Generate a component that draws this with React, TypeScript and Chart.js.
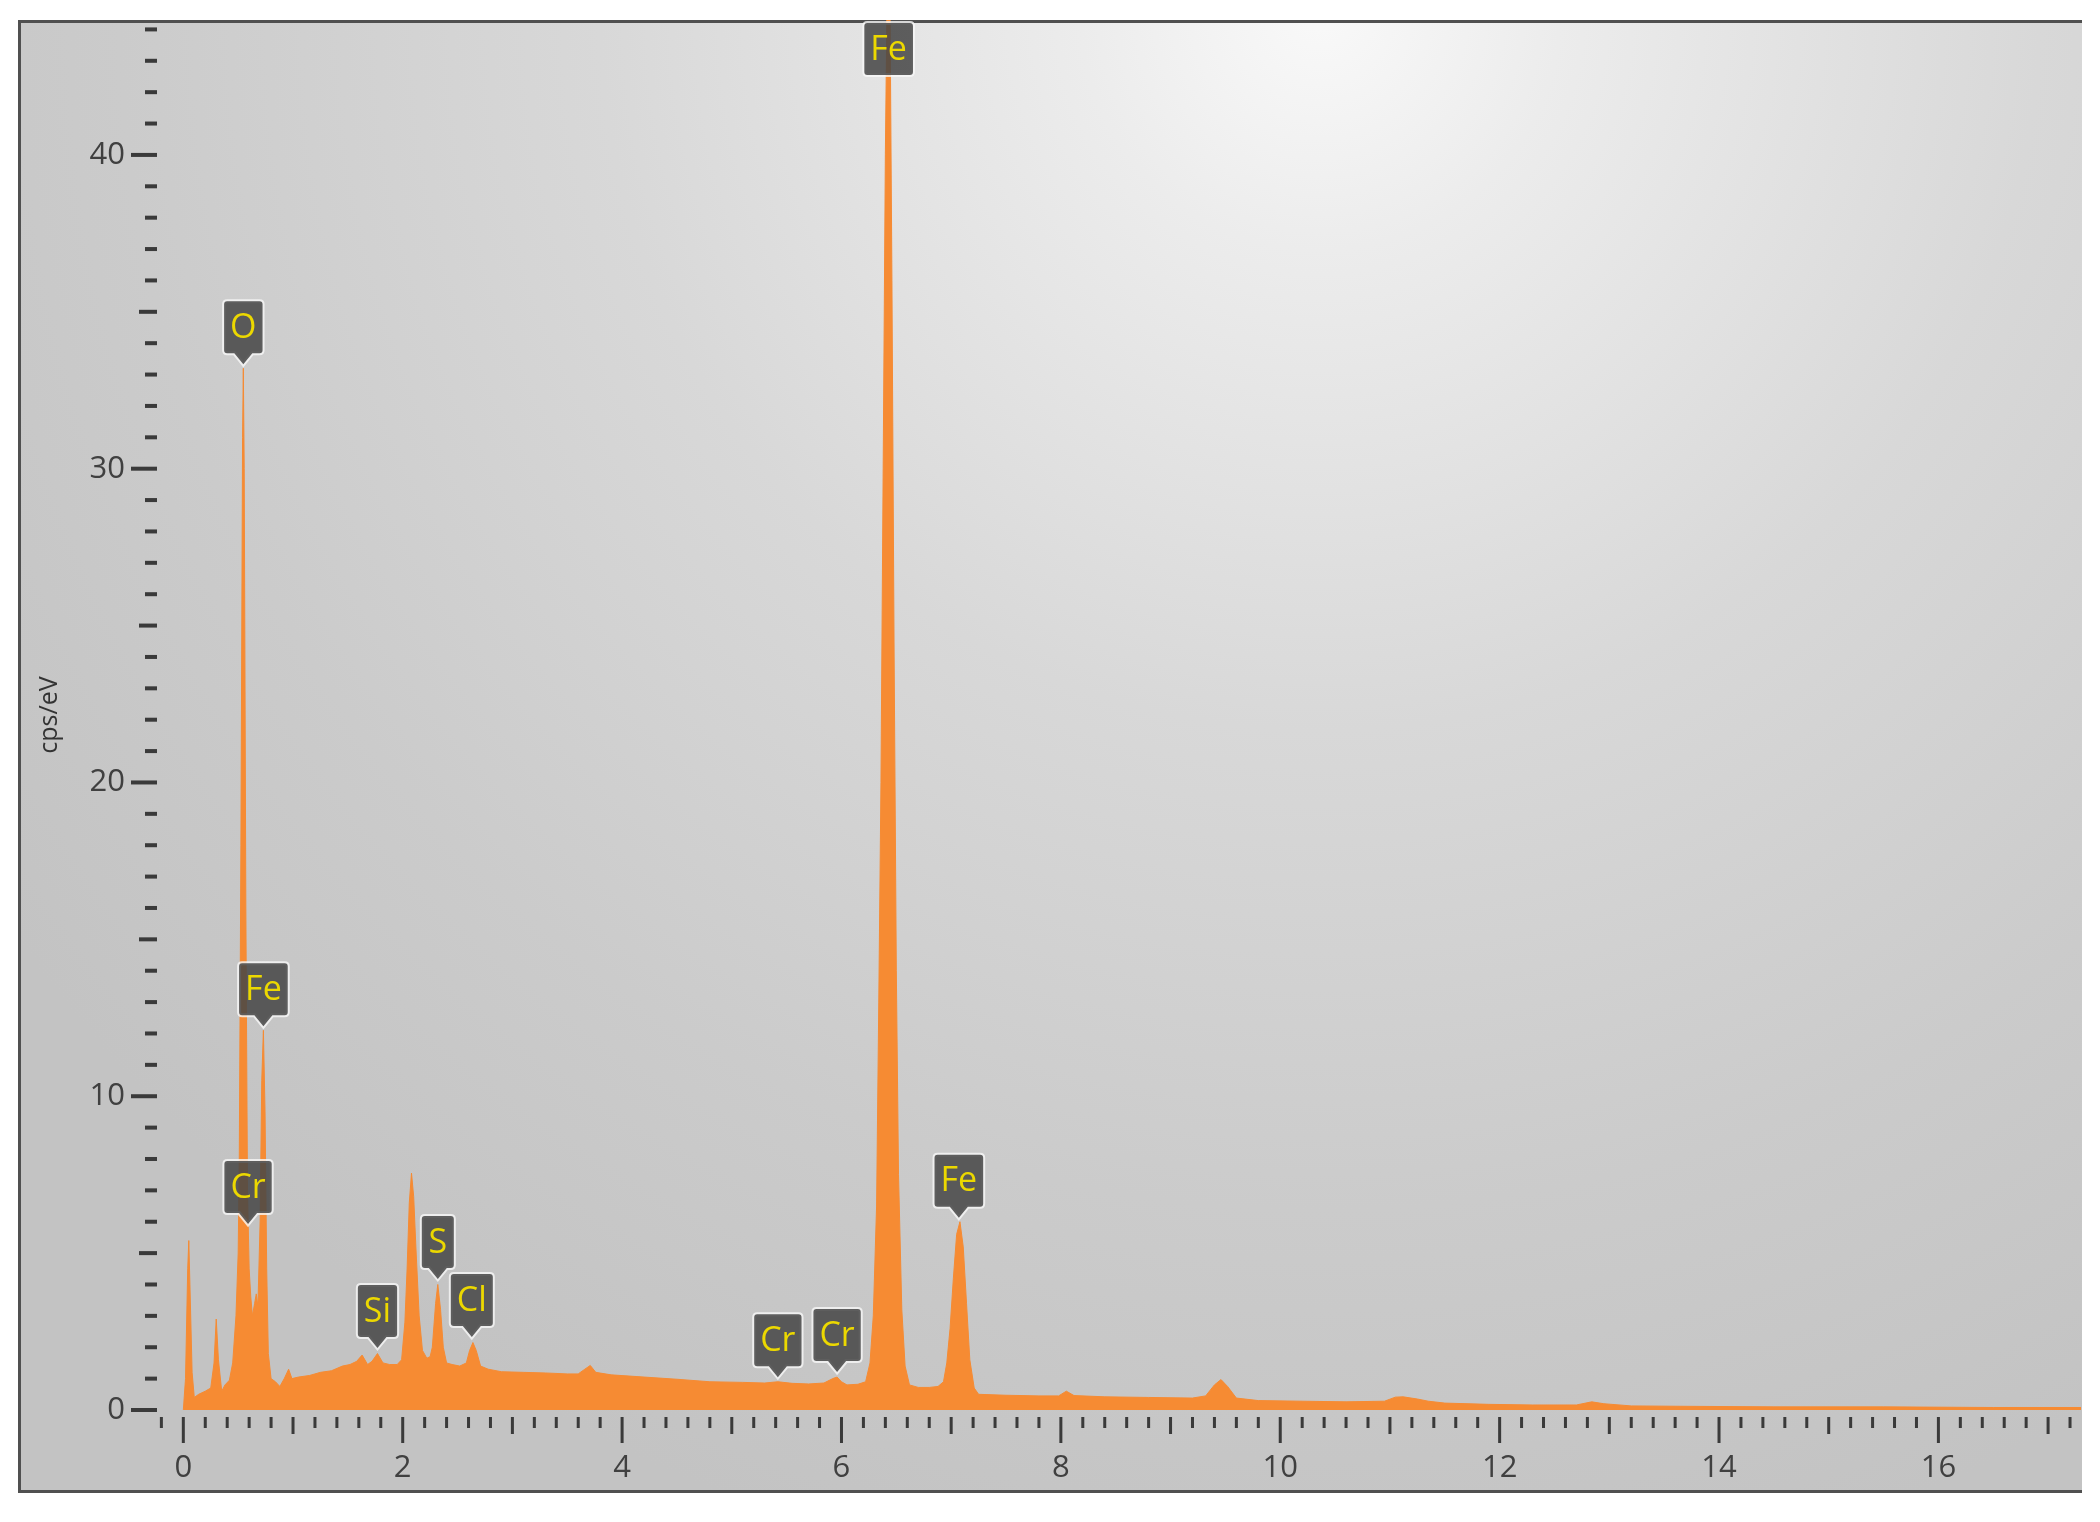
import React, { useEffect, useRef } from "react";
import { Chart, registerables } from "chart.js";

Chart.register(...registerables);

// ---- Data (energy in keV, intensity in cps/eV) ----
const energyKeV = [
  0.0, 0.02, 0.04, 0.05, 0.06, 0.08, 0.1, 0.14, 0.2, 0.25, 0.28, 0.3, 0.32, 0.35, 0.38, 0.42, 0.45, 0.48,
  0.5, 0.51, 0.525, 0.54, 0.547, 0.555, 0.57, 0.585, 0.6, 0.615, 0.63, 0.65, 0.665, 0.68, 0.7, 0.715, 0.73,
  0.745, 0.76, 0.775, 0.8, 0.84, 0.88, 0.92, 0.96, 0.99, 1.05, 1.15, 1.25, 1.35, 1.45, 1.52, 1.58, 1.63,
  1.68, 1.72, 1.77, 1.82, 1.88, 1.95, 1.99, 2.02, 2.04, 2.06, 2.08, 2.1, 2.12, 2.15, 2.18, 2.22, 2.25,
  2.27, 2.3, 2.32, 2.345, 2.37, 2.4, 2.45, 2.52, 2.58, 2.61, 2.64, 2.67, 2.71, 2.78, 2.9, 3.1, 3.3, 3.5,
  3.6, 3.66, 3.71, 3.76, 3.9, 4.2, 4.5, 4.8, 5.1, 5.3, 5.42, 5.55, 5.7, 5.84, 5.92, 5.96, 6.0, 6.05, 6.15,
  6.22, 6.26, 6.29, 6.32, 6.34, 6.36, 6.38, 6.4, 6.42, 6.43, 6.44, 6.46, 6.48, 6.5, 6.52, 6.55, 6.58, 6.62,
  6.7, 6.8, 6.88, 6.93, 6.96, 6.99, 7.02, 7.05, 7.08, 7.11, 7.14, 7.17, 7.21, 7.25, 7.5, 7.8, 7.98, 8.05,
  8.12, 8.4, 8.8, 9.2, 9.32, 9.4, 9.46, 9.52, 9.6, 9.8, 10.2, 10.6, 10.95, 11.05, 11.12, 11.25, 11.35, 11.5,
  11.9, 12.3, 12.7, 12.84, 12.95, 13.2, 13.6, 14.5, 15.5, 16.5, 17.3,
];
const countsCps = [
  0.0, 1.0, 4.5, 5.4, 4.0, 1.2, 0.4, 0.5, 0.6, 0.7, 1.5, 2.9, 1.6, 0.6, 0.8, 0.95, 1.5, 3.0,
  5.0, 8.0, 18.0, 31.0, 33.2, 30.0, 16.0, 7.0, 4.5, 3.6, 3.0, 3.4, 3.7, 3.3, 6.0, 10.5, 12.1,
  9.5, 4.5, 1.8, 1.0, 0.9, 0.75, 1.0, 1.3, 1.0, 1.05, 1.1, 1.2, 1.25, 1.4, 1.45, 1.55, 1.75,
  1.45, 1.55, 1.8, 1.5, 1.45, 1.45, 1.6, 2.8, 4.5, 6.6, 7.55, 6.8, 5.2, 3.0, 1.9, 1.65, 1.7,
  2.0, 3.4, 4.0, 3.2, 2.0, 1.5, 1.45, 1.4, 1.5, 1.9, 2.15, 1.9, 1.4, 1.3, 1.22, 1.2, 1.18, 1.15,
  1.15, 1.3, 1.42, 1.2, 1.12, 1.05, 0.98, 0.9, 0.88, 0.86, 0.9, 0.85, 0.83, 0.86, 1.0, 1.05, 0.9, 0.8, 0.82,
  0.9, 1.5, 3.0, 6.5, 13.0, 20.0, 30.0, 40.0, 46.5, 47.0, 46.0, 36.0, 24.0, 14.0, 7.5, 3.2, 1.4, 0.8,
  0.72, 0.72, 0.75, 0.9, 1.5, 2.6, 4.2, 5.6, 6.0, 5.2, 3.4, 1.6, 0.7, 0.5, 0.47, 0.45, 0.45, 0.6,
  0.46, 0.42, 0.4, 0.38, 0.45, 0.8, 0.97, 0.75, 0.38, 0.3, 0.28, 0.26, 0.28, 0.41, 0.42, 0.35, 0.28, 0.22,
  0.18, 0.16, 0.16, 0.26, 0.2, 0.13, 0.12, 0.1, 0.1, 0.08, 0.08,
];

// ---- Peak identification labels ----
const peakElements = ["O", "Fe", "Cr", "Si", "S", "Cl", "Cr", "Cr", "Fe", "Fe"];
const peakEnergy = [0.547, 0.73, 0.59, 1.77, 2.32, 2.63, 5.42, 5.96, 6.43, 7.07];
const peakHeight = [33.2, 12.1, 5.8, 1.85, 4.05, 2.2, 0.92, 1.08, 47.0, 6.0];

// ---- Axes ----
const xTickLabels = [0, 2, 4, 6, 8, 10, 12, 14, 16];
const yTickLabels = [0, 10, 20, 30, 40];
const xMinorStep = 0.2;
const yMinorStep = 1;
const X_MIN = -0.24;
const X_MAX = 17.3;
const Y_MIN = 0;
const Y_MAX = 44.3;
const yAxisTitle = "cps/eV";

const ORANGE = "#f68b33";
const TICK_COLOR = "#3a3a3a";
const FONT = '"Open Sans", "Noto Sans", sans-serif';

const framePlugin = {
  id: "frame",
  beforeDraw(chart: any) {
    const ctx = chart.ctx as CanvasRenderingContext2D;
    ctx.save();
    ctx.fillStyle = "#ffffff";
    ctx.fillRect(0, 0, chart.width, chart.height);
    const g = ctx.createRadialGradient(1320, 10, 0, 1320, 10, 1600);
    g.addColorStop(0, "#f9f9f9");
    g.addColorStop(0.15, "#ececec");
    g.addColorStop(0.45, "#d8d8d8");
    g.addColorStop(0.75, "#cbcbcb");
    g.addColorStop(1, "#c3c3c3");
    ctx.fillStyle = g;
    ctx.fillRect(18, 20, 2064, 1473);
    ctx.strokeStyle = "#505050";
    ctx.lineWidth = 3;
    ctx.beginPath();
    ctx.moveTo(2082, 21.5);
    ctx.lineTo(19.5, 21.5);
    ctx.lineTo(19.5, 1491.5);
    ctx.lineTo(2082, 1491.5);
    ctx.stroke();
    ctx.restore();
  },
};

const ticksPlugin = {
  id: "tickMarks",
  afterDraw(chart: any) {
    const ctx = chart.ctx as CanvasRenderingContext2D;
    const xs = chart.scales.x;
    const ys = chart.scales.y;
    const area = chart.chartArea;
    ctx.save();
    ctx.fillStyle = TICK_COLOR;
    // y ticks
    for (let v = Y_MIN; v <= Y_MAX + 1e-9; v += yMinorStep) {
      const r = Math.round(v);
      const len = r % 10 === 0 ? 26 : r % 5 === 0 ? 18 : 12;
      const py = ys.getPixelForValue(r);
      ctx.fillRect(area.left - len, py - 2, len, 4);
    }
    // x ticks
    const top = area.bottom + 7;
    for (let k = Math.ceil(X_MIN / xMinorStep); k * xMinorStep <= X_MAX; k++) {
      const v = k * xMinorStep;
      const px = xs.getPixelForValue(v);
      let len = 11;
      if (k % 10 === 0) len = 26;
      else if (k % 5 === 0) len = 17;
      ctx.fillRect(px - 1.5, top, 3, len);
    }
    ctx.restore();
  },
};

function roundRectPath(ctx: CanvasRenderingContext2D, x: number, y: number, w: number, h: number, r: number, tipX: number, tipY: number, ph: number) {
  ctx.beginPath();
  ctx.moveTo(x + r, y);
  ctx.lineTo(x + w - r, y);
  ctx.quadraticCurveTo(x + w, y, x + w, y + r);
  ctx.lineTo(x + w, y + h - r);
  ctx.quadraticCurveTo(x + w, y + h, x + w - r, y + h);
  if (ph > 0) {
    ctx.lineTo(tipX + 9, y + h);
    ctx.lineTo(tipX, tipY);
    ctx.lineTo(tipX - 9, y + h);
  }
  ctx.lineTo(x + r, y + h);
  ctx.quadraticCurveTo(x, y + h, x, y + h - r);
  ctx.lineTo(x, y + r);
  ctx.quadraticCurveTo(x, y, x + r, y);
  ctx.closePath();
}

const peakLabelPlugin = {
  id: "peakLabels",
  afterDatasetsDraw(chart: any) {
    const ctx = chart.ctx as CanvasRenderingContext2D;
    const xs = chart.scales.x;
    const ys = chart.scales.y;
    const area = chart.chartArea;
    ctx.save();
    ctx.font = `34px ${FONT}`;
    const bh = 52;
    const ph = 11;
    peakElements.forEach((el, i) => {
      const px = xs.getPixelForValue(peakEnergy[i]);
      const tipY = ys.getPixelForValue(peakHeight[i]) - 4;
      const tw = ctx.measureText(el).width;
      const bw = Math.max(32, tw + 12);
      let by = tipY - ph - bh;
      let hasPointer = true;
      if (by < area.top + 3) {
        by = area.top + 3;
        hasPointer = false;
      }
      const bx = px - bw / 2;
      roundRectPath(ctx, bx, by, bw, bh, 3, px, tipY, hasPointer ? ph : 0);
      ctx.strokeStyle = "rgba(248,248,248,0.8)";
      ctx.lineWidth = 4;
      ctx.stroke();
      ctx.fillStyle = "rgba(70,70,70,0.86)";
      ctx.fill();
      ctx.fillStyle = "#ecd800";
      ctx.textAlign = "center";
      ctx.textBaseline = "middle";
      ctx.fillText(el, px, by + bh / 2 + 1);
    });
    ctx.restore();
  },
};

export default function App() {
  const canvasRef = useRef<HTMLCanvasElement | null>(null);

  useEffect(() => {
    const canvas = canvasRef.current;
    if (!canvas) return;
    const points = energyKeV.map((e, i) => ({ x: e, y: countsCps[i] }));
    const chart = new Chart(canvas, {
      type: "line",
      data: {
        datasets: [
          {
            data: points,
            fill: "origin",
            backgroundColor: ORANGE,
            borderColor: ORANGE,
            borderWidth: 1,
            pointRadius: 0,
            tension: 0,
          },
        ],
      },
      options: {
        animation: false,
        responsive: false,
        devicePixelRatio: 1,
        events: [],
        layout: { padding: { top: 20, right: 19, left: 0, bottom: 0 } },
        plugins: {
          legend: { display: false },
          tooltip: { enabled: false },
        },
        scales: {
          x: {
            type: "linear",
            min: X_MIN,
            max: X_MAX,
            grid: { display: false, drawTicks: false },
            border: { display: false },
            afterBuildTicks: (scale: any) => {
              scale.ticks = xTickLabels.map((v) => ({ value: v }));
            },
            afterFit: (scale: any) => {
              scale.height = 112;
              scale.paddingLeft = 0;
              scale.paddingRight = 0;
              scale.paddingTop = 0;
              scale.paddingBottom = 0;
            },
            ticks: {
              autoSkip: false,
              maxRotation: 0,
              padding: 40,
              color: "#404040",
              font: { family: FONT, size: 31 },
              callback: (v: any) => String(v),
            },
          },
          y: {
            type: "linear",
            min: Y_MIN,
            max: Y_MAX,
            grid: { display: false, drawTicks: false },
            border: { display: false },
            afterBuildTicks: (scale: any) => {
              scale.ticks = yTickLabels.map((v) => ({ value: v }));
            },
            afterFit: (scale: any) => {
              scale.width = 157;
              scale.paddingLeft = 0;
              scale.paddingRight = 0;
              scale.paddingTop = 0;
              scale.paddingBottom = 0;
            },
            title: {
              display: true,
              text: yAxisTitle,
              color: "#333333",
              font: { family: FONT, size: 25 },
              padding: { top: 35, bottom: 0 },
            },
            ticks: {
              autoSkip: false,
              padding: 32,
              color: "#404040",
              font: { family: FONT, size: 31 },
              callback: (v: any) => String(v),
            },
          },
        },
      },
      plugins: [framePlugin, ticksPlugin, peakLabelPlugin],
    });
    return () => chart.destroy();
  }, []);

  return (
    <div style={{ position: "fixed", left: 0, top: 0, width: 2100, height: 1522, background: "#fff" }}>
      <canvas ref={canvasRef} width={2100} height={1522} style={{ width: 2100, height: 1522, display: "block" }} />
    </div>
  );
}
